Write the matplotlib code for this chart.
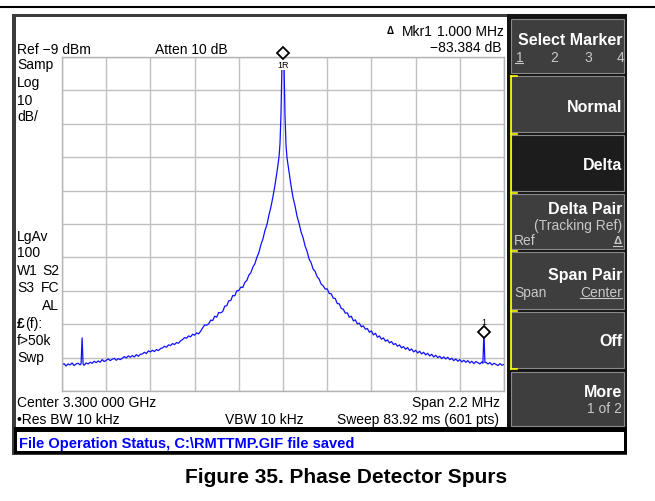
import numpy as np
import matplotlib.pyplot as plt
from matplotlib.patches import Rectangle

plt.rcParams['font.family'] = ['Liberation Sans', 'DejaVu Sans']

ref_level = -9      # dBm at top of grid
db_per_div = 10
span_mhz = 2.2

# trace, one value every 10 kHz from -1.1 MHz to +1.1 MHz
trace_dbm = [
    -101.3, -100.8, -101.5, -100.9, -101.2, -100.6, -101.4, -100.9, -100.7, -101.2,
    -93.1, -101.3, -100.6, -100.9, -100.4, -100.7, -100.1, -100.5, -100.0, -100.4,
    -99.6, -100.2, -99.8, -99.4, -99.9, -99.5, -99.2, -99.8, -99.3, -99.6,
    -99.2, -98.7, -99.1, -98.5, -98.9, -98.4, -98.8, -98.1, -98.6, -98.0,
    -97.9, -97.4, -97.8, -97.0, -97.3, -96.8, -97.2, -96.6, -96.9, -96.3,
    -96.1, -95.6, -95.9, -95.2, -95.4, -94.8, -95.1, -94.5, -94.7, -94.0,
    -93.6, -93.0, -93.2, -92.5, -92.8, -92.0, -92.3, -91.6, -91.9, -91.1,
    -90.1, -89.2, -89.3, -88.9, -87.8, -87.9, -86.6, -86.9, -85.5, -85.6,
    -85.2, -83.6, -83.5, -82.0, -81.9, -80.4, -80.5, -79.0, -78.9, -77.9,
    -78.0, -76.5, -75.9, -74.3, -73.6, -71.9, -70.9, -69.0, -67.5, -65.2,
    -63.5, -61.0, -59.2, -56.3, -53.9, -50.8, -47.4, -43.4, -39.0, -26.0,
    -7.9,
    -26.5, -39.2, -43.3, -47.5, -51.1, -53.6, -56.7, -58.8, -61.4, -63.1,
    -65.6, -67.2, -69.5, -70.6, -72.5, -73.2, -74.8, -75.5, -77.0, -77.5,
    -78.5, -78.4, -79.8, -79.9, -81.2, -81.3, -82.8, -82.9, -84.3, -84.5,
    -85.7, -85.6, -86.9, -86.6, -88.0, -87.7, -88.9, -88.7, -89.8, -89.5,
    -90.5, -90.3, -91.4, -91.0, -92.2, -91.7, -92.9, -92.5, -93.5, -93.1,
    -94.1, -93.7, -94.6, -94.2, -95.1, -94.8, -95.6, -95.2, -96.1, -95.7,
    -96.5, -96.0, -96.9, -96.4, -97.3, -96.8, -97.6, -97.1, -97.9, -97.4,
    -98.2, -97.7, -98.5, -98.0, -98.8, -98.3, -99.0, -98.6, -99.3, -98.8,
    -99.4, -98.9, -99.6, -99.2, -99.9, -99.4, -100.1, -99.6, -100.3, -99.8,
    -100.4, -99.9, -100.6, -100.1, -100.8, -100.2, -100.5, -100.9, -100.3, -91.3,
    -100.4, -100.9, -100.5, -101.2, -100.7, -101.0, -101.4, -100.8, -101.3, -101.0,
]
sweep_mhz = np.linspace(-span_mhz / 2, span_mhz / 2, len(trace_dbm))

# extra points around carrier and spurs
detail_khz = [-1005, -995, -15, -5, 5, 15, 995, 1005]
detail_dbm = [-100.8, -100.9, -35.0, -11.0, -11.3, -35.4, -100.7, -100.5]

f = np.concatenate([sweep_mhz, np.array(detail_khz) / 1000])
lvl = np.concatenate([trace_dbm, detail_dbm])
order = np.argsort(f)
f, lvl = f[order], lvl[order]

mkr_ref = (0.0, -7.9)
mkr_1 = (1.0, -91.3)

W, H = 655, 502
fig = plt.figure(figsize=(W / 100, H / 100), dpi=100)
bg = fig.add_axes([0, 0, 1, 1])
bg.set_xlim(0, W)
bg.set_ylim(H, 0)
bg.axis('off')


def box(x0, y0, x1, y1, fc, ec='none', lw=0):
    bg.add_patch(Rectangle((x0, y0), x1 - x0, y1 - y0, facecolor=fc, edgecolor=ec, linewidth=lw))


def txt(x, y, s, size=10, ha='left', color='black', weight='normal'):
    # y = middle of the capitals in pixels
    bg.text(x, y + 0.716 * size * 100 / 72 / 2, s, fontsize=size, ha=ha, va='baseline',
            color=color, fontweight=weight)


# frame
bg.plot([0, W], [8, 8], color='black', lw=1.5)
box(12, 15, 627, 456, '#3c3c3c')
box(507, 15, 627, 430, '#141414')
box(16, 18, 507, 428, 'white')
box(14, 428, 627, 455, 'black')
box(17, 433, 624, 452, 'white')

# softkeys
keys = [(20, 74), (77, 133), (136, 192), (195, 250), (253, 310), (313, 369), (373, 427)]
for i, (y0, y1) in enumerate(keys):
    box(511, y0, 624, y1, '#1c1c1c' if i == 2 else '#3e3e3e', ec='#8a8a8a', lw=0.8)

# yellow bracket
bg.plot([511, 511], [77, 370], color='#ffff00', lw=1.2)
for yy in [77, 135, 194, 252, 312, 370]:
    bg.plot([511, 517], [yy, yy], color='#ffff00', lw=1.2)

white = 'white'
grey = '#c8c8c8'
txt(622, 39, 'Select Marker', 11.5, 'right', white, 'bold')
txt(516, 57, '1', 10, 'left', grey)
txt(550, 57, '2', 10, 'left', grey)
txt(584, 57, '3', 10, 'left', grey)
txt(617, 57, '4', 10, 'left', grey)
bg.plot([515, 523], [63.5, 63.5], color=grey, lw=0.8)
txt(622, 106, 'Normal', 11.5, 'right', white, 'bold')
txt(622, 164, 'Delta', 11.5, 'right', white, 'bold')
txt(622, 208, 'Delta Pair', 11.5, 'right', white, 'bold')
txt(622, 225, '(Tracking Ref)', 10, 'right', grey)
txt(514, 240, 'Ref', 10, 'left', grey)
txt(622, 240, 'Δ', 8, 'right', grey, 'bold')
bg.plot([613, 622], [246.5, 246.5], color=grey, lw=0.8)
txt(622, 274, 'Span Pair', 11.5, 'right', white, 'bold')
txt(514, 292, 'Span', 10, 'left', grey)
txt(622, 292, 'Center', 10, 'right', grey)
bg.plot([580, 622], [298.5, 298.5], color=grey, lw=0.8)
txt(622, 340, 'Off', 11.5, 'right', white, 'bold')
txt(622, 391, 'More', 11.5, 'right', white, 'bold')
txt(622, 408, '1 of 2', 10, 'right', grey)

# screen annotations
txt(17, 49, 'Ref −9 dBm')
txt(155, 49, 'Atten 10 dB')
txt(387, 31, 'Δ', 7, weight='bold')
txt(402, 31, 'Mkr1')
txt(504, 31, '1.000 MHz', ha='right')
txt(502, 47, '−83.384 dB', ha='right')
for s, y in [('Samp', 64), ('Log', 82), ('10', 100), ('dB/', 116), ('LgAv', 236),
             ('100', 252), ('W1', 270), ('S3', 287), ('f>50k', 340), ('Swp', 357)]:
    txt(17, y, s)
txt(59, 270, 'S2', ha='right')
txt(59, 287, 'FC', ha='right')
txt(59, 305, 'AL', ha='right')
txt(17, 323, '£', weight='bold')
txt(25, 323, '(f):')
txt(17, 402, 'Center 3.300 000 GHz')
txt(500, 402, 'Span 2.2 MHz', ha='right')
txt(17, 419, '•Res BW 10 kHz')
txt(225, 419, 'VBW 10 kHz')
txt(499, 419, 'Sweep 83.92 ms (601 pts)', ha='right')
txt(19, 443, 'File Operation Status, C:\\RMTTMP.GIF file saved', 10.5, color='#0000ff', weight='bold')

txt(346, 476, 'Figure 35. Phase Detector Spurs', 15, 'center', weight='bold')

# trace area
ax = fig.add_axes([62 / W, 1 - 392 / H, 442 / W, 334 / H])
ax.set_xlim(-span_mhz / 2, span_mhz / 2)
ax.set_ylim(ref_level - 10 * db_per_div, ref_level)
ax.set_xticks(np.linspace(-span_mhz / 2, span_mhz / 2, 11))
ax.set_yticks(np.linspace(ref_level - 10 * db_per_div, ref_level, 11))
ax.tick_params(length=0, labelbottom=False, labelleft=False)
ax.grid(color='#c0c0c0', lw=1.0)
for sp in ax.spines.values():
    sp.set_color('#b4b4b4')
    sp.set_linewidth(1.0)
ax.set_facecolor('white')

ax.plot(f, lvl, color='#1010ff', lw=0.9)

ax.plot(*mkr_ref, marker='D', ms=6, mfc='white', mec='black', mew=1.3, clip_on=False, zorder=6)
ax.annotate('1R', xy=mkr_ref, xytext=(0, -8), textcoords='offset points', ha='center', va='center',
            fontsize=6.5, bbox=dict(fc='white', ec='none', pad=0.6), zorder=5, annotation_clip=False)
ax.plot(*mkr_1, marker='D', ms=6, mfc='white', mec='black', mew=1.3, clip_on=False, zorder=6)
ax.annotate('1', xy=mkr_1, xytext=(0, 7.5), textcoords='offset points', ha='center', va='center',
            fontsize=6.5, zorder=5)

fig.savefig('out.png', dpi=100)
